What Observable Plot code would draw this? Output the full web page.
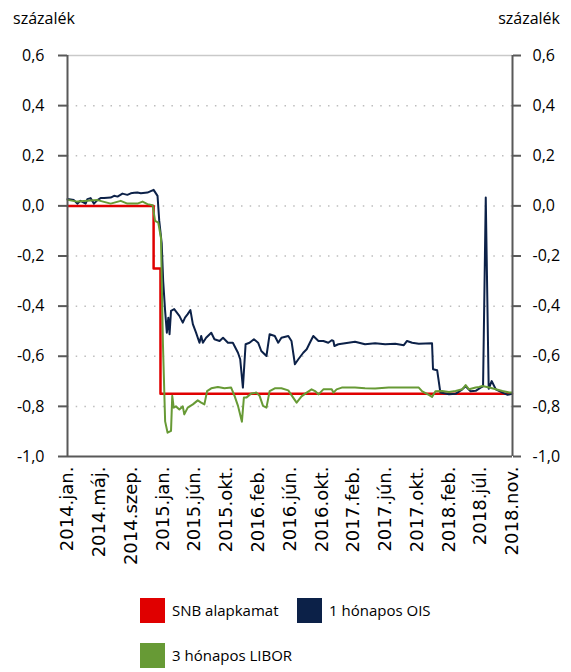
<!DOCTYPE html>
<html>
<head>
<meta charset="utf-8">
<script src="https://cdn.jsdelivr.net/npm/d3@7"></script>
<script src="https://cdn.jsdelivr.net/npm/@observablehq/plot@0.6"></script>
<style>
  html, body { margin: 0; padding: 0; background: #fff; }
  #wrap { position: relative; width: 571px; height: 672px; font-family: "Open Sans", sans-serif; color: #000; }
  .unit { position: absolute; top: 8px; font-size: 16px; line-height: 20px; }
  #chart { position: absolute; left: 0; top: 35px; }
  .sw { position: absolute; width: 25px; height: 25px; }
  .lt { position: absolute; font-size: 15px; line-height: 25px; }
</style>
</head>
<body>
<div id="wrap">
  <div class="unit" style="left:13px">százalék</div>
  <div class="unit" style="right:11px">százalék</div>
  <div id="chart"></div>
  <div id="legend"></div>
</div>
<script>
// ---- data ----
const seriesNames = ["SNB alapkamat", "1 hónapos OIS", "3 hónapos LIBOR"];
const seriesColors = ["#e00000", "#0c2148", "#679a35"];

const xTickLabels = ["2014.jan.", "2014.máj.", "2014.szep.", "2015.jan.", "2015.jún.", "2015.okt.",
  "2016.feb.", "2016.jún.", "2016.okt.", "2017.feb.", "2017.jún.", "2017.okt.", "2018.feb.", "2018.júl.", "2018.nov."];
const yTicks = [0.6, 0.4, 0.2, 0, -0.2, -0.4, -0.6, -0.8, -1];
const yTickLabels = ["0,6", "0,4", "0,2", "0,0", "-0,2", "-0,4", "-0,6", "-0,8", "-1,0"];

const snb = [
  ["2014-01-01", 0], ["2014-12-18", -0.25], ["2015-01-15", -0.75], ["2018-12-18", -0.75]
];

const ois = [
  ["2014-01-01", 0.027], ["2014-01-27", 0.023], ["2014-02-10", 0.009], ["2014-02-23", 0.02],
  ["2014-03-16", 0.009], ["2014-03-23", 0.027], ["2014-04-05", 0.031], ["2014-04-19", 0.009],
  ["2014-05-03", 0.023], ["2014-05-16", 0.031], ["2014-05-30", 0.031], ["2014-06-26", 0.033],
  ["2014-07-10", 0.04], ["2014-07-24", 0.037], ["2014-08-13", 0.049], ["2014-09-02", 0.044],
  ["2014-09-16", 0.05], ["2014-09-30", 0.052], ["2014-10-13", 0.053], ["2014-10-27", 0.05],
  ["2014-11-23", 0.053], ["2014-12-18", 0.064], ["2015-01-03", 0.04], ["2015-01-10", -0.06],
  ["2015-01-20", -0.15], ["2015-01-26", -0.3], ["2015-02-03", -0.42], ["2015-02-10", -0.506],
  ["2015-02-16", -0.446], ["2015-02-21", -0.512], ["2015-02-27", -0.419], ["2015-03-12", -0.412],
  ["2015-04-02", -0.439], ["2015-04-16", -0.466], ["2015-04-25", -0.446], ["2015-05-06", -0.432],
  ["2015-05-17", -0.416], ["2015-05-27", -0.472], ["2015-06-09", -0.506], ["2015-06-23", -0.546],
  ["2015-06-30", -0.519], ["2015-07-07", -0.546], ["2015-07-20", -0.526], ["2015-08-10", -0.506],
  ["2015-08-23", -0.532], ["2015-09-13", -0.539], ["2015-09-27", -0.526], ["2015-10-17", -0.546],
  ["2015-11-06", -0.546], ["2015-11-27", -0.586], ["2015-12-06", -0.612], ["2015-12-17", -0.725],
  ["2015-12-28", -0.552], ["2016-01-13", -0.546], ["2016-01-31", -0.532], ["2016-02-17", -0.546],
  ["2016-03-01", -0.579], ["2016-03-22", -0.599], ["2016-04-04", -0.512], ["2016-04-25", -0.519],
  ["2016-05-09", -0.546], ["2016-05-22", -0.526], ["2016-06-19", -0.519], ["2016-07-02", -0.539],
  ["2016-07-16", -0.632], ["2016-07-30", -0.612], ["2016-08-19", -0.586], ["2016-09-02", -0.572],
  ["2016-09-15", -0.546], ["2016-09-29", -0.519], ["2016-10-20", -0.539], ["2016-11-09", -0.539],
  ["2016-11-29", -0.546], ["2016-12-13", -0.536], ["2016-12-20", -0.539], ["2016-12-24", -0.559],
  ["2017-01-09", -0.552], ["2017-02-19", -0.546], ["2017-03-18", -0.542], ["2017-04-28", -0.552],
  ["2017-06-08", -0.548], ["2017-07-19", -0.552], ["2017-08-29", -0.55], ["2017-10-03", -0.556],
  ["2017-10-16", -0.539], ["2017-11-06", -0.546], ["2017-12-03", -0.55], ["2018-01-26", -0.548],
  ["2018-01-30", -0.652], ["2018-02-16", -0.656], ["2018-03-01", -0.745], ["2018-04-05", -0.752],
  ["2018-05-02", -0.75], ["2018-05-29", -0.732], ["2018-06-12", -0.72], ["2018-07-02", -0.74],
  ["2018-07-23", -0.738], ["2018-08-12", -0.725], ["2018-08-22", -0.72], ["2018-09-02", 0.033],
  ["2018-09-14", -0.73], ["2018-09-26", -0.699], ["2018-10-13", -0.732], ["2018-11-09", -0.745],
  ["2018-11-30", -0.754], ["2018-12-18", -0.75]
];

const libor = [
  ["2014-01-01", 0.024], ["2014-02-10", 0.017], ["2014-03-23", 0.02], ["2014-05-03", 0.023],
  ["2014-05-30", 0.016], ["2014-06-26", 0.009], ["2014-08-06", 0.02], ["2014-09-02", 0.009],
  ["2014-10-13", 0.009], ["2014-11-03", 0.017], ["2014-11-23", 0.007], ["2014-12-14", 0.003],
  ["2014-12-24", -0.06], ["2015-01-06", -0.067], ["2015-01-17", -0.127], ["2015-01-25", -0.55],
  ["2015-02-03", -0.86], ["2015-02-13", -0.905], ["2015-02-27", -0.898], ["2015-03-04", -0.758],
  ["2015-03-10", -0.805], ["2015-03-19", -0.8], ["2015-04-02", -0.812], ["2015-04-16", -0.8],
  ["2015-04-22", -0.832], ["2015-05-06", -0.805], ["2015-05-27", -0.792], ["2015-06-16", -0.776],
  ["2015-06-30", -0.785], ["2015-07-13", -0.792], ["2015-07-24", -0.739], ["2015-08-10", -0.728],
  ["2015-09-06", -0.723], ["2015-10-03", -0.728], ["2015-10-30", -0.725], ["2015-11-13", -0.758],
  ["2015-11-27", -0.798], ["2015-12-13", -0.861], ["2015-12-21", -0.765], ["2015-12-31", -0.765],
  ["2016-01-20", -0.749], ["2016-02-10", -0.745], ["2016-02-23", -0.758], ["2016-03-08", -0.798],
  ["2016-03-22", -0.805], ["2016-04-04", -0.739], ["2016-04-25", -0.728], ["2016-05-22", -0.728],
  ["2016-06-19", -0.736], ["2016-07-09", -0.765], ["2016-07-23", -0.785], ["2016-08-12", -0.76],
  ["2016-09-02", -0.745], ["2016-09-22", -0.732], ["2016-10-06", -0.739], ["2016-10-20", -0.752],
  ["2016-11-09", -0.732], ["2016-12-13", -0.732], ["2016-12-20", -0.745], ["2017-01-02", -0.732],
  ["2017-01-23", -0.725], ["2017-03-18", -0.725], ["2017-04-28", -0.728], ["2017-06-08", -0.729],
  ["2017-08-02", -0.725], ["2017-09-26", -0.725], ["2017-12-03", -0.725], ["2017-12-17", -0.74],
  ["2018-01-13", -0.754], ["2018-01-26", -0.762], ["2018-02-09", -0.74], ["2018-03-08", -0.739],
  ["2018-04-05", -0.743], ["2018-05-02", -0.739], ["2018-05-29", -0.732], ["2018-06-12", -0.715],
  ["2018-06-26", -0.732], ["2018-07-23", -0.725], ["2018-08-06", -0.723], ["2018-08-19", -0.719],
  ["2018-09-16", -0.725], ["2018-10-13", -0.732], ["2018-11-09", -0.739], ["2018-12-07", -0.745],
  ["2018-12-18", -0.745]
];

// ---- build ----
const parse = d3.utcParse("%Y-%m-%d");
const toRows = arr => arr.map(([d, v]) => ({date: parse(d), value: v}));
const snbRows = toRows(snb), oisRows = toRows(ois), liborRows = toRows(libor);

const xStart = parse("2014-01-01"), xEnd = parse("2018-12-20");
const tickDates = xTickLabels.map((_, i) => new Date(+xStart + i * (xEnd - xStart) / (xTickLabels.length - 1)));
const labelByTime = new Map(tickDates.map((d, i) => [+d, xTickLabels[i]]));
const yLabelRows = yTicks.map((v, i) => ({v, label: yTickLabels[i]}));
const axisColor = "#595959";

const chart = Plot.plot({
  width: 571,
  height: 555,
  marginTop: 20,
  marginLeft: 67,
  marginRight: 59,
  marginBottom: 134,
  style: {background: "white", fontFamily: "'Open Sans', sans-serif", color: "#000", overflow: "visible"},
  x: {type: "utc", domain: [xStart, xEnd], label: null},
  y: {domain: [-1, 0.6], label: null},
  marks: [
    Plot.ruleY(yTicks.filter(v => v > -1 && v < 0.6), {stroke: "#bdbdbd", strokeWidth: 1.5, strokeDasharray: "1.5,7.2"}),
    Plot.ruleY([0.6], {stroke: "#c9c9c9", strokeWidth: 1.5}),
    Plot.line(snbRows, {x: "date", y: "value", stroke: seriesColors[0], strokeWidth: 2.5, curve: "step-after"}),
    Plot.line(oisRows, {x: "date", y: "value", stroke: seriesColors[1], strokeWidth: 2, strokeLinejoin: "round"}),
    Plot.line(liborRows, {x: "date", y: "value", stroke: seriesColors[2], strokeWidth: 2, strokeLinejoin: "round"}),
    Plot.ruleX([xStart, xEnd], {stroke: axisColor, strokeWidth: 2}),
    Plot.ruleY([-1], {stroke: axisColor, strokeWidth: 2}),
    Plot.axisY({anchor: "left", label: null, ticks: yTicks, text: null, tickSize: 9, stroke: axisColor, strokeWidth: 2}),
    Plot.axisY({anchor: "right", label: null, ticks: yTicks, text: null, tickSize: 8, stroke: axisColor, strokeWidth: 2}),
    Plot.text(yLabelRows, {y: "v", text: "label", frameAnchor: "left", textAnchor: "end", dx: -23, fontSize: 16, fill: "#000"}),
    Plot.text(yLabelRows, {y: "v", text: "label", frameAnchor: "right", textAnchor: "start", dx: 20, fontSize: 16, fill: "#000"}),
    Plot.axisX({label: null, ticks: tickDates, tickFormat: d => labelByTime.get(+d), tickRotate: -90, tickSize: 0, tickPadding: 10, fill: "#000", fontSize: 18, fontFamily: "DejaVu Sans"})
  ]
});
document.getElementById("chart").appendChild(chart);

// ---- legend ----
const legendPos = [[140, 598], [297, 598], [140, 643]];
const legend = document.getElementById("legend");
seriesNames.forEach((name, i) => {
  const [lx, ly] = legendPos[i];
  const sw = document.createElement("div");
  sw.className = "sw";
  sw.style.left = lx + "px"; sw.style.top = ly + "px"; sw.style.background = seriesColors[i];
  const t = document.createElement("div");
  t.className = "lt";
  t.style.left = (lx + 32) + "px"; t.style.top = ly + "px";
  t.textContent = name;
  legend.appendChild(sw); legend.appendChild(t);
});
</script>
</body>
</html>
